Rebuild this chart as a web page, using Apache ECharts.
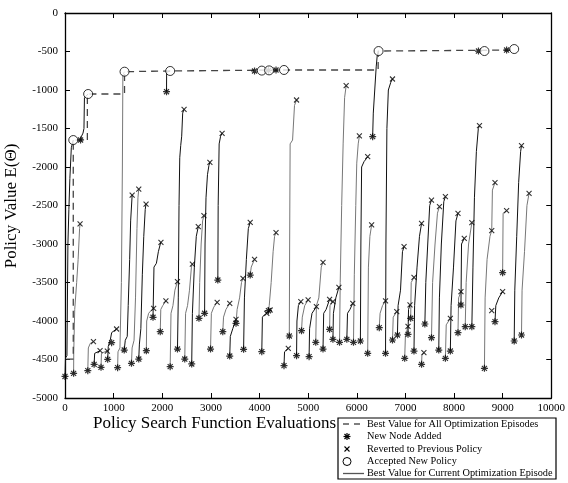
<!DOCTYPE html>
<html>
<head>
<meta charset="utf-8">
<script src="https://cdn.jsdelivr.net/npm/echarts@6/dist/echarts.min.js"></script>
<style>html,body{margin:0;padding:0;background:#fff}#c{width:568px;height:483px}</style>
</head>
<body>
<div id="c"></div>
<script>
// ---- axis ticks ----
const xTicks = [0,1000,2000,3000,4000,5000,6000,7000,8000,9000,10000];
const yTicks = [0,-500,-1000,-1500,-2000,-2500,-3000,-3500,-4000,-4500,-5000];

// ---- legend labels ----
const legendLabels = ['Best Value for All Optimization Episodes', 'New Node Added', 'Reverted to Previous Policy', 'Accepted New Policy', 'Best Value for Current Optimization Episode'];

// ---- best value over all episodes (dashed) ----
const bestAll = [[30,-4494],[170,-4494],[170,-1650],[460,-1650],[460,-1052],[1224,-1052],[1224,-762],[2163,-753],[4504,-740],[6440,-740],[6440,-494],[9238,-481]];

// ---- episodes (best value for current optimization episode) ----
const episodes = [
 [[0,-4720],[10,-4480],[40,-4450],[60,-3000],[80,-2550],[100,-2150],[130,-1750],[170,-1650]],
 [[177,-4680],[180,-4400],[200,-3850],[240,-3500],[270,-3200],[300,-2800],[310,-2740]],
 [[320,-1649],[340,-1600],[370,-1560],[390,-1500],[400,-1100],[476,-1052]],
 [[469,-4645],[480,-4350],[520,-4290],[585,-4268]],
 [[599,-4563],[610,-4420],[650,-4400],[721,-4386]],
 [[741,-4602],[750,-4420],[800,-4405],[871,-4390]],
 [[878,-4498],[890,-4330],[930,-4250],[960,-4150],[1061,-4104]],
 [[1082,-4606],[1090,-4400],[1130,-4350],[1160,-3500],[1180,-2000],[1190,-800],[1224,-762]],
 [[1218,-4377],[1240,-4250],[1280,-4200],[1300,-3800],[1330,-3200],[1350,-2700],[1381,-2364]],
 [[1367,-4550],[1380,-4350],[1420,-4250],[1450,-3700],[1480,-2800],[1500,-2400],[1517,-2286]],
 [[1517,-4494],[1530,-4300],[1560,-4100],[1590,-3400],[1620,-2900],[1650,-2550],[1667,-2481]],
 [[1673,-4386],[1680,-4000],[1720,-3900],[1790,-3850],[1823,-3835]],
 [[1810,-3952],[1830,-3300],[1880,-3250],[1920,-3100],[1960,-3000],[1973,-2978]],
 [[1959,-4139],[1970,-3850],[2010,-3800],[2075,-3740]],
 [[2088,-1022],[2090,-770],[2163,-753]],
 [[2163,-4593],[2180,-3900],[2220,-3800],[2260,-3600],[2313,-3489]],
 [[2313,-4364],[2330,-3700],[2345,-2500],[2360,-1880],[2380,-1720],[2400,-1600],[2420,-1300],[2449,-1251]],
 [[2463,-4494],[2480,-3900],[2520,-3800],[2560,-3600],[2600,-3300],[2619,-3260]],
 [[2606,-4558],[2620,-3900],[2660,-3300],[2700,-2900],[2741,-2775]],
 [[2755,-3965],[2770,-3500],[2800,-3000],[2830,-2700],[2857,-2632]],
 [[2871,-3900],[2880,-3000],[2900,-2400],[2930,-2100],[2960,-1980],[2980,-1939]],
 [[2993,-4364],[3010,-3900],[3060,-3820],[3129,-3757]],
 [[3143,-3468],[3150,-2500],[3170,-1700],[3200,-1600],[3231,-1563]],
 [[3245,-4139],[3260,-3950],[3310,-3850],[3388,-3771]],
 [[3388,-4455],[3400,-4200],[3450,-4100],[3517,-3978]],
 [[3517,-4030],[3540,-3850],[3590,-3700],[3630,-3500],[3660,-3446]],
 [[3673,-4368],[3690,-3700],[3730,-3200],[3770,-2800],[3809,-2718]],
 [[3809,-3403],[3830,-3300],[3898,-3199]],
 [[4047,-4398],[4060,-3950],[4100,-3920],[4150,-3900]],
 [[4184,-3866],[4200,-3800],[4240,-3500],[4280,-3100],[4310,-2900],[4340,-2853]],
 [[4504,-4580],[4515,-4400],[4592,-4355]],
 [[4613,-4195],[4620,-3000],[4630,-1700],[4680,-1650],[4720,-1200],[4762,-1130]],
 [[4762,-4450],[4770,-4000],[4800,-3800],[4850,-3749]],
 [[4864,-4126],[4880,-3950],[4930,-3800],[5000,-3727]],
 [[5020,-4463],[5030,-4100],[5080,-3900],[5170,-3814]],
 [[5157,-4277],[5170,-3800],[5220,-3700],[5270,-3300],[5306,-3238]],
 [[5306,-4364],[5320,-3900],[5370,-3850],[5442,-3718]],
 [[5442,-4108],[5450,-3800],[5510,-3749]],
 [[5510,-4238],[5520,-3900],[5570,-3700],[5633,-3562]],
 [[5646,-4277],[5660,-3500],[5690,-2500],[5720,-1700],[5750,-1100],[5782,-944]],
 [[5796,-4238],[5810,-3900],[5860,-3850],[5918,-3771]],
 [[5933,-4277],[5950,-3400],[5980,-2500],[6000,-1950],[6030,-1700],[6054,-1597]],
 [[6075,-4260],[6085,-3000],[6100,-2000],[6150,-1930],[6200,-1890],[6225,-1866]],
 [[6225,-4420],[6240,-3300],[6270,-2900],[6306,-2753]],
 [[6327,-1606],[6340,-1300],[6370,-1000],[6400,-700],[6420,-560],[6449,-494]],
 [[6463,-4087],[6480,-3900],[6530,-3800],[6592,-3740]],
 [[6592,-4420],[6600,-3000],[6620,-1500],[6650,-1000],[6700,-900],[6735,-857]],
 [[6735,-4247],[6750,-3950],[6823,-3879]],
 [[6837,-4182],[6850,-3800],[6900,-3600],[6940,-3100],[6973,-3035]],
 [[6986,-4485],[7000,-4200],[7054,-4070]],
 [[7054,-4173],[7065,-3850],[7095,-3792]],
 [[7109,-3965],[7120,-3500],[7177,-3433]],
 [[7177,-4390],[7190,-3800],[7240,-3300],[7290,-2900],[7333,-2731]],
 [[7333,-4563],[7340,-4450],[7381,-4411]],
 [[7401,-4039],[7420,-3500],[7460,-3000],[7500,-2500],[7537,-2429]],
 [[7537,-4217],[7560,-3500],[7610,-3000],[7660,-2600],[7701,-2515]],
 [[7687,-4377],[7700,-3700],[7740,-3000],[7790,-2450],[7823,-2385]],
 [[7823,-4485],[7840,-4050],[7925,-3965]],
 [[7925,-4390],[7940,-3800],[7990,-3300],[8040,-2700],[8082,-2602]],
 [[8082,-4152],[8095,-3700],[8143,-3619]],
 [[8143,-3792],[8155,-3000],[8211,-2926]],
 [[8231,-4074],[8250,-3500],[8300,-3000],[8367,-2723]],
 [[8367,-4074],[8390,-3300],[8420,-2400],[8460,-1800],[8500,-1500],[8524,-1463]],
 [[8626,-4615],[8640,-3700],[8680,-3200],[8740,-2900],[8776,-2827],[8790,-2300],[8843,-2203]],
 [[8843,-4009],[8860,-3800],[8920,-3700],[9000,-3619]],
 [[9000,-3372],[9010,-2600],[9082,-2567]],
 [[9238,-4260],[9250,-3600],[9290,-2900],[9330,-2200],[9370,-1800],[9388,-1723]],
 [[9388,-4182],[9400,-3600],[9450,-3100],[9500,-2500],[9544,-2342]]
];

// ---- markers ----
const extraNewNodes = [[959,-4281],[3898,-753],[4184,-745],[4340,-740],[8503,-494],[9082,-481]];
const accepted = [[170,-1650],[476,-1052],[1224,-762],[2163,-753],[4047,-748],[4197,-745],[4504,-740],[6449,-494],[8626,-494],[9238,-468]];
const extraReverted = [[8776,-3866],[8776,-2827],[4218,-3857]];

const newNodes = episodes.map(e => e[0]).concat(extraNewNodes);
const reverted = episodes.map(e => e[e.length - 1])
  .filter(p => !accepted.some(a => Math.abs(a[0]-p[0]) < 5 && Math.abs(a[1]-p[1]) < 20))
  .concat(extraReverted);

const FONT = 'Liberation Serif';
const STAR = 'path://M0,-5L0,5M-5,0L5,0M-3.6,-3.6L3.6,3.6M-3.6,3.6L3.6,-3.6';
const CROSS = 'path://M-4,-4L4,4M-4,4L4,-4';

const chart = echarts.init(document.getElementById('c'), null, {renderer: 'canvas'});

const axisCommon = {
  type: 'value',
  axisLine: {show: true, onZero: false, lineStyle: {color: '#000', width: 1.3}},
  axisTick: {show: true, inside: true, length: 5, lineStyle: {color: '#000', width: 1}},
  splitLine: {show: false}
};

const series = [];
series.push({
  name: legendLabels[0], type: 'line', data: bestAll, symbol: 'none', z: 3,
  lineStyle: {color: '#444', width: 1.3, type: [7, 5]}
});
series.push({
  name: legendLabels[1], type: 'scatter', data: newNodes, symbol: STAR, symbolSize: 7,
  itemStyle: {color: 'none', borderColor: '#000', borderWidth: 1.2}, z: 5
});
series.push({
  name: legendLabels[2], type: 'scatter', data: reverted, symbol: CROSS, symbolSize: 5,
  itemStyle: {color: 'none', borderColor: '#000', borderWidth: 1.1}, z: 5
});
series.push({
  name: legendLabels[3], type: 'scatter', data: accepted, symbol: 'circle', symbolSize: 9,
  itemStyle: {color: '#fff', borderColor: '#000', borderWidth: 1}, z: 6
});
episodes.forEach((ep, i) => {
  const col = i % 2 === 0 ? '#111' : '#777';
  series.push({
    name: legendLabels[4], type: 'line', data: ep, symbol: 'none', z: 2,
    lineStyle: {color: col, width: 1}
  });
});

// ---- hand-made legend box (graphic) ----
const LX = 338, LY = 418, LW = 218, LH = 61;
const rowY = [424, 436.5, 449, 461.5, 473.5];
const iconX = 347, textX = 367;
const legendGraphic = [
  {type: 'rect', shape: {x: LX, y: LY, width: LW, height: LH}, style: {fill: '#fff', stroke: '#000', lineWidth: 1.2}, z: 100},
  {type: 'line', shape: {x1: 343, y1: rowY[0], x2: 364, y2: rowY[0]}, style: {stroke: '#000', lineWidth: 1.2, lineDash: [6, 5]}, z: 101},
  {type: 'line', shape: {x1: iconX, y1: rowY[1]-3.5, x2: iconX, y2: rowY[1]+3.5}, style: {stroke: '#000', lineWidth: 1.2}, z: 101},
  {type: 'line', shape: {x1: iconX-3.5, y1: rowY[1], x2: iconX+3.5, y2: rowY[1]}, style: {stroke: '#000', lineWidth: 1.2}, z: 101},
  {type: 'line', shape: {x1: iconX-2.5, y1: rowY[1]-2.5, x2: iconX+2.5, y2: rowY[1]+2.5}, style: {stroke: '#000', lineWidth: 1.2}, z: 101},
  {type: 'line', shape: {x1: iconX-2.5, y1: rowY[1]+2.5, x2: iconX+2.5, y2: rowY[1]-2.5}, style: {stroke: '#000', lineWidth: 1.2}, z: 101},
  {type: 'line', shape: {x1: iconX-2.5, y1: rowY[2]-2.5, x2: iconX+2.5, y2: rowY[2]+2.5}, style: {stroke: '#000', lineWidth: 1.1}, z: 101},
  {type: 'line', shape: {x1: iconX-2.5, y1: rowY[2]+2.5, x2: iconX+2.5, y2: rowY[2]-2.5}, style: {stroke: '#000', lineWidth: 1.1}, z: 101},
  {type: 'circle', shape: {cx: iconX, cy: rowY[3], r: 4}, style: {fill: '#fff', stroke: '#000', lineWidth: 1}, z: 101},
  {type: 'line', shape: {x1: 343, y1: rowY[4], x2: 364, y2: rowY[4]}, style: {stroke: '#555', lineWidth: 1.3}, z: 101}
];
legendLabels.forEach((t, i) => {
  legendGraphic.push({type: 'text', x: textX, y: rowY[i], z: 101,
    style: {text: t, font: '10.3px "Liberation Serif"', fill: '#000', verticalAlign: 'middle', align: 'left'}});
});

chart.setOption({
  animation: false,
  backgroundColor: '#fff',
  grid: {left: 65, right: 13, top: 13, bottom: 85, containLabel: false},
  xAxis: [
    Object.assign({}, axisCommon, {min: 0, max: 10000, interval: 1000, position: 'bottom',
      axisLabel: {color: '#000', fontFamily: FONT, fontSize: 11, margin: 5,
        formatter: v => xTicks.includes(v) ? String(v) : ''}}),
    Object.assign({}, axisCommon, {min: 0, max: 10000, interval: 1000, position: 'top',
      axisLabel: {show: false}})
  ],
  yAxis: [
    Object.assign({}, axisCommon, {min: -5000, max: 0, interval: 500, position: 'left',
      axisLabel: {color: '#000', fontFamily: FONT, fontSize: 11, margin: 7,
        formatter: v => yTicks.includes(v) ? String(v) : ''}}),
    Object.assign({}, axisCommon, {min: -5000, max: 0, interval: 500, position: 'right',
      axisLabel: {show: false}})
  ],
  graphic: [
    {type: 'text', left: 93, top: 415, style: {text: 'Policy Search Function Evaluations', font: '17px "Liberation Serif"', fill: '#000'}},
    {type: 'text', x: 12, y: 206, rotation: Math.PI / 2,
      style: {text: 'Policy Value E(\u0398)', font: '17px "Liberation Serif"', fill: '#000', align: 'center', verticalAlign: 'middle'}}
  ].concat(legendGraphic),
  series: series
});
</script>
</body>
</html>
